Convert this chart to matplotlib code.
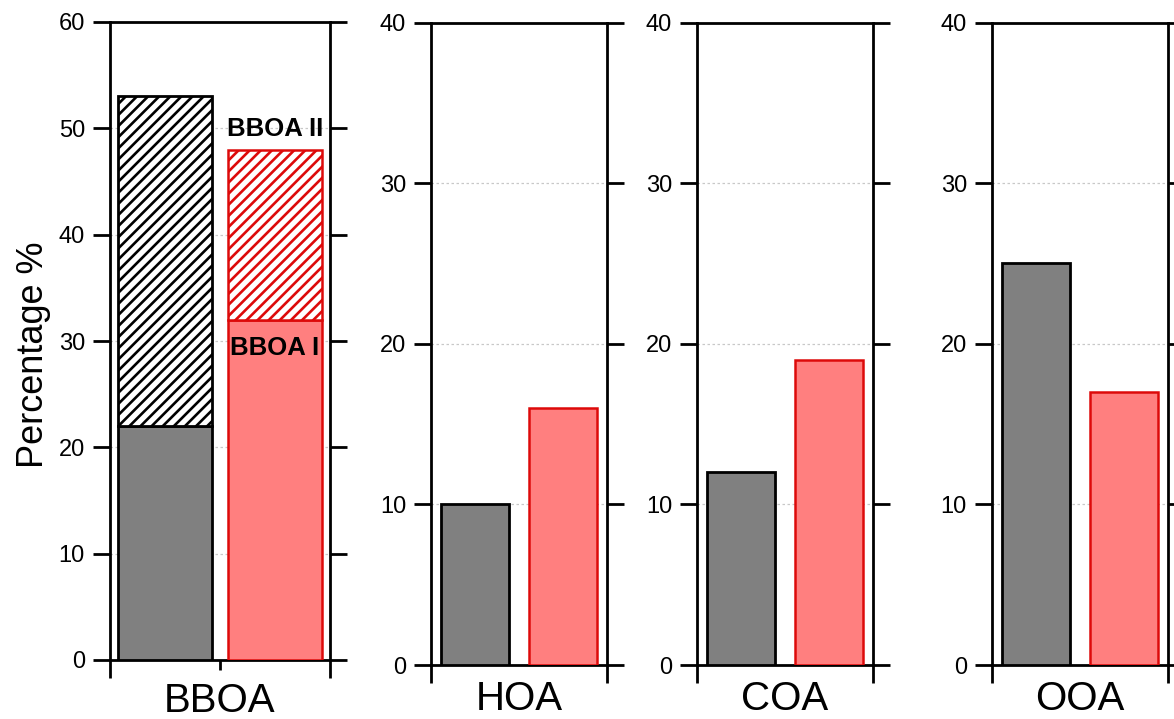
import matplotlib
matplotlib.use("Agg")
import matplotlib.pyplot as plt

plt.rcParams['font.family'] = ['Liberation Sans', 'DejaVu Sans']
plt.rcParams['hatch.linewidth'] = 1.9

# Source-apportionment shares (%) for the two sample groups
categories = ['BBOA', 'HOA', 'COA', 'OOA']
dark_values = [None, 10, 12, 25]
red_values = [None, 16, 19, 17]
# BBOA is split into its two sub-factors
dark_bboa_i, dark_bboa_ii = 22, 31
red_bboa_i, red_bboa_ii = 32, 16
y_limits = [60, 40, 40, 40]
y_tick_step = 10

DARK_FILL = '#808080'
DARK_EDGE = '#000000'
RED_FILL = '#ff7f7f'
RED_EDGE = '#dd0a0a'

W, H = 1174, 719
fig = plt.figure(figsize=(W / 100, H / 100), dpi=100)

# panel frames in pixels: left, right, top, bottom
frames = [(110, 330, 22, 660), (431, 607, 22.5, 665),
          (697, 873, 22.5, 665), (992, 1168, 22.5, 665)]
bar_widths = [0.86, 0.78, 0.78, 0.78]

axes = []
for (l, r, t, b) in frames:
    ax = fig.add_axes([l / W, (H - b) / H, (r - l) / W, (b - t) / H])
    axes.append(ax)

for i, ax in enumerate(axes):
    ymax = y_limits[i]
    ax.set_xlim(0, 2)
    ax.set_ylim(0, ymax)
    ax.set_yticks(range(0, ymax + 1, y_tick_step))
    ax.set_xticks([0, 2])
    ax.set_xticklabels([])
    for s in ax.spines.values():
        s.set_linewidth(2.0)
        s.set_color('black')
    ax.tick_params(axis='y', direction='out', length=12, width=2.0,
                   left=True, right=True, labelleft=True, labelright=False,
                   labelsize=17, pad=6)
    ax.tick_params(axis='x', which='major', direction='out', length=13,
                   width=2.0, bottom=True, top=False)
    ax.yaxis.grid(True, color='#c8c8c8', linestyle=(0, (2, 2)), linewidth=0.9)
    ax.set_axisbelow(True)

    w = bar_widths[i]
    if categories[i] == 'BBOA':
        # stacked bars: sub-factor I solid, sub-factor II hatched
        ax.bar(0.5, dark_bboa_i, width=w, color=DARK_FILL, edgecolor=DARK_EDGE,
               linewidth=2.0, zorder=3)
        ax.bar(0.5, dark_bboa_ii, bottom=dark_bboa_i, width=w, color='white',
               edgecolor=DARK_EDGE, hatch='///', linewidth=2.0, zorder=3)
        ax.bar(1.5, red_bboa_i, width=w, color=RED_FILL, edgecolor=RED_EDGE,
               linewidth=1.8, zorder=3)
        ax.bar(1.5, red_bboa_ii, bottom=red_bboa_i, width=w, color='white',
               edgecolor=RED_EDGE, hatch='///', linewidth=1.8, zorder=3)
        ax.annotate('BBOA II', xy=(1.5, red_bboa_i + red_bboa_ii),
                    xytext=(0, 15), textcoords='offset points',
                    ha='center', va='center', fontsize=18.5,
                    fontweight='bold', zorder=5)
        ax.annotate('BBOA I', xy=(1.5, red_bboa_i),
                    xytext=(0, -20), textcoords='offset points',
                    ha='center', va='center', fontsize=18.5,
                    fontweight='bold', zorder=5)
        ax.set_xticks([1], minor=True)
        ax.tick_params(axis='x', which='minor', direction='out', length=7,
                       width=2.0)
    else:
        ax.bar(0.5, dark_values[i], width=w, color=DARK_FILL,
               edgecolor=DARK_EDGE, linewidth=2.0, zorder=3)
        ax.bar(1.5, red_values[i], width=w, color=RED_FILL,
               edgecolor=RED_EDGE, linewidth=1.8, zorder=3)

    # category name under each panel
    l, r, t, b = frames[i]
    base = 712 if i == 0 else 710
    fig.text((l + r) / 2 / W, (H - base) / H, categories[i],
             ha='center', va='baseline', fontsize=29)

fig.text(34 / W, (H - 355) / H, 'Percentage %', rotation=90,
         ha='center', va='center', fontsize=26)

fig.savefig('out.png', dpi=100)
